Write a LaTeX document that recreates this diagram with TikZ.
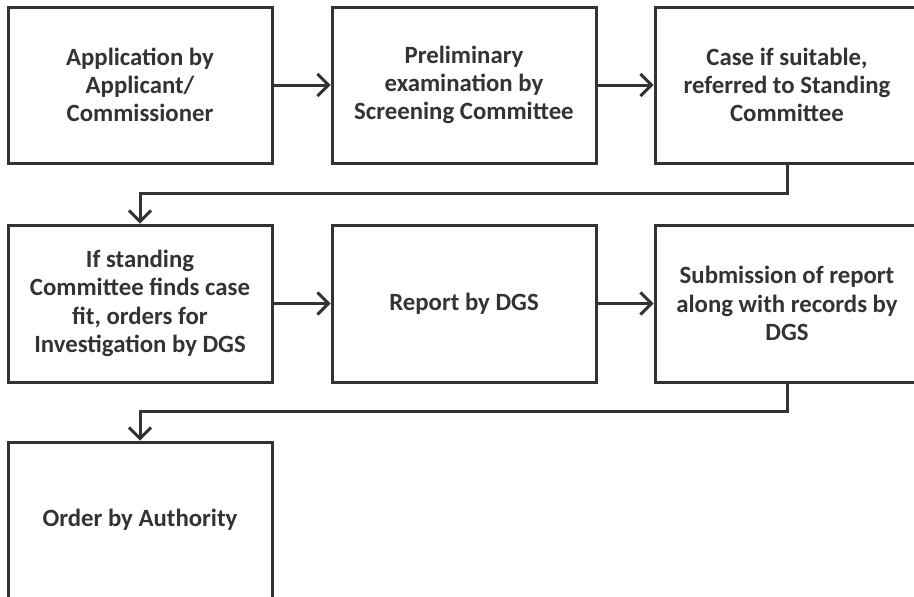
\documentclass[tikz,border=0pt]{standalone}
\usepackage{fontspec}
\setmainfont{Carlito}
\usetikzlibrary{arrows.meta}
\definecolor{ink}{HTML}{333333}
\begin{document}
\begin{tikzpicture}[x=1pt,y=-1pt,
  stepbox/.style={draw=ink, line width=3pt, minimum width=264pt, minimum height=156pt,
    inner sep=0pt, align=center, text=ink, font=\bfseries\fontsize{24.8}{28.3}\selectfont},
  conn/.style={draw=ink, line width=3pt, -{Straight Barb[length=11pt,width=22pt,line width=3pt]}}]
\useasboundingbox (0,0) rectangle (914,597);
\clip (0,0) rectangle (914,597);
\node[stepbox] (a) at (140,85) {Application by\\Applicant/\\Commissioner};
\node[stepbox] (b) at (464,85) {Preliminary\\examination by\\Screening Committee};
\node[stepbox] (c) at (787,85) {Case if suitable,\\referred to Standing\\Committee};
\node[stepbox,minimum height=157pt] (d) at (140,303.5) {If standing\\Committee finds case\\fit, orders for\\Investigation by DGS};
\node[stepbox,minimum height=157pt] (e) at (464,303.5) {Report by DGS};
\node[stepbox,minimum height=157pt] (f) at (787,303.5) {Submission of report\\along with records by\\DGS};
\node[stepbox] (g) at (140,520) {Order by Authority};
\coordinate (cb) at (787,193);
\coordinate (fb) at (787,411);
\draw[conn] (a) -- (b);
\draw[conn] (b) -- (c);
\draw[conn] (c.south) -- (cb) -| (d.north);
\draw[conn] (d) -- (e);
\draw[conn] (e) -- (f);
\draw[conn] (f.south) -- (fb) -| (g.north);
\end{tikzpicture}
\end{document}
